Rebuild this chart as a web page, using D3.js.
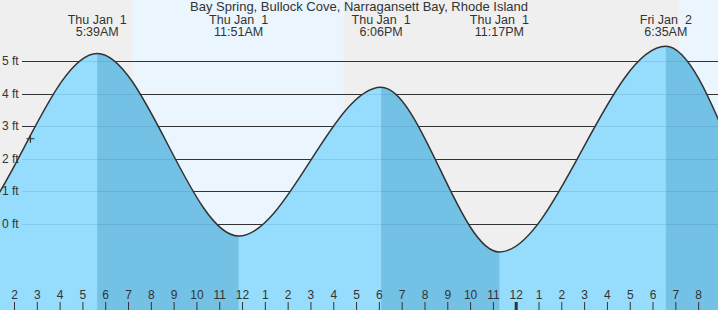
<!DOCTYPE html>
<html>
<head>
<meta charset="utf-8">
<script src="https://cdn.jsdelivr.net/npm/d3@7"></script>
<style>
  body { margin: 0; background: #fff; }
  svg text { font-family: "Liberation Sans", Arial, sans-serif; fill: #333; }
</style>
</head>
<body>
<svg id="tide"></svg>
<script>
// hours counted from midnight, Thu Jan 1
var title = "Bay Spring, Bullock Cove, Narragansett Bay, Rhode Island";

// high / low events (the first and last ones lie outside the view)
var tideTimes   = [-7.0, -0.7, 5.65, 11.85, 18.1, 23.283, 30.583, 36.4, 42.6];
var tideHeights = [4.6, -0.45, 5.24, -0.37, 4.2, -0.86, 5.46, -1.0, 4.5];

// labelled events
var eventTimes = [5.65, 11.85, 18.1, 23.283, 30.583];
var eventDates = ["Thu Jan  1", "Thu Jan  1", "Thu Jan  1", "Thu Jan  1", "Fri Jan  2"];
var eventClock = ["5:39AM", "11:51AM", "6:06PM", "11:17PM", "6:35AM"];

// daylight
var sunrise = [7.2, 31.16];
var sunset  = [16.46, 40];

// falling tide bands (high -> low)
var fallStart = [5.65, 18.1, 30.583];
var fallEnd   = [11.85, 23.283, 40];

var heightTicks = [0, 1, 2, 3, 4, 5];
var hourTicks = d3.range(2, 33);

// current time marker
var nowTime = 2.72;
var nowHeight = 2.62;

var width = 718, height = 310;

var svg = d3.select('#tide')
    .attr('width', width)
    .attr('height', height);

var xScale = d3.scaleLinear().domain([2, 24]).range([14, 515.7]);
var yScale = d3.scaleLinear().domain([0, 5]).range([224, 61.3]);

// night background
svg.append('rect')
    .attr('width', width)
    .attr('height', height)
    .attr('fill', '#efefef');

// daylight
svg.selectAll('.day')
    .data(sunrise)
    .enter()
    .append('rect')
    .attr('class', 'day')
    .attr('x', function(d) { return xScale(d); })
    .attr('y', 0)
    .attr('width', function(d, i) { return xScale(sunset[i]) - xScale(d); })
    .attr('height', height)
    .attr('fill', '#ebf5fe');

// grid lines
svg.selectAll('.grid')
    .data(heightTicks)
    .enter()
    .append('line')
    .attr('class', 'grid')
    .attr('x1', 22)
    .attr('x2', width)
    .attr('y1', function(d) { return Math.round(yScale(d)) + 0.5; })
    .attr('y2', function(d) { return Math.round(yScale(d)) + 0.5; })
    .attr('stroke', '#333')
    .attr('stroke-width', 1);

var tideData = tideTimes.map(function(t, i) { return { t: t, h: tideHeights[i] }; });

var area = d3.area()
    .x(function(d) { return xScale(d.t); })
    .y0(height)
    .y1(function(d) { return yScale(d.h); })
    .curve(d3.curveMonotoneX);

var line = d3.line()
    .x(function(d) { return xScale(d.t); })
    .y(function(d) { return yScale(d.h); })
    .curve(d3.curveMonotoneX);

svg.append('clipPath')
    .attr('id', 'water')
    .append('path')
    .attr('d', area(tideData));

// water
svg.append('path')
    .attr('d', area(tideData))
    .attr('fill', '#96dcfc');

var water = svg.append('g').attr('clip-path', 'url(#water)');

water.selectAll('.fall')
    .data(fallStart)
    .enter()
    .append('rect')
    .attr('class', 'fall')
    .attr('x', function(d) { return xScale(d); })
    .attr('y', 0)
    .attr('width', function(d, i) { return xScale(fallEnd[i]) - xScale(d); })
    .attr('height', height)
    .attr('fill', '#73c1e5');

// faint grid through the water
water.selectAll('.wgrid')
    .data(heightTicks)
    .enter()
    .append('line')
    .attr('class', 'wgrid')
    .attr('x1', 22)
    .attr('x2', width)
    .attr('y1', function(d) { return Math.round(yScale(d)) + 0.5; })
    .attr('y2', function(d) { return Math.round(yScale(d)) + 0.5; })
    .attr('stroke', '#0a4a70')
    .attr('stroke-opacity', 0.12);

svg.append('path')
    .attr('d', line(tideData))
    .attr('fill', 'none')
    .attr('stroke', '#333')
    .attr('stroke-width', 1.5);

// height labels
svg.selectAll('.ylabel')
    .data(heightTicks)
    .enter()
    .append('text')
    .attr('class', 'ylabel')
    .attr('x', 2)
    .attr('y', function(d) { return yScale(d) + 4; })
    .style('font-size', '12px')
    .text(function(d) { return d + ' ft'; });

// now marker
svg.append('path')
    .attr('transform', 'translate(' + xScale(nowTime) + ',' + yScale(nowHeight) + ')')
    .attr('d', 'M-4,0H4M0,-4V4')
    .attr('stroke', '#333')
    .attr('stroke-width', 1.2);

// title
svg.append('text')
    .attr('x', width / 2)
    .attr('y', 11)
    .attr('text-anchor', 'middle')
    .style('font-size', '13px')
    .text(title);

// event labels
var ev = svg.selectAll('.event')
    .data(eventTimes)
    .enter()
    .append('text')
    .attr('class', 'event')
    .attr('text-anchor', 'middle')
    .style('font-size', '12.5px')
    .style('white-space', 'pre');

ev.append('tspan')
    .attr('x', function(d) { return xScale(d); })
    .attr('y', 24)
    .text(function(d, i) { return eventDates[i]; });

ev.append('tspan')
    .attr('x', function(d) { return xScale(d); })
    .attr('y', 36)
    .text(function(d, i) { return eventClock[i]; });

// hour axis
var xAxis = d3.axisBottom(xScale)
    .tickValues(hourTicks)
    .tickSize(8)
    .tickFormat(function(d) { var h = d % 12; return h === 0 ? 12 : h; });

var gx = svg.append('g')
    .attr('transform', 'translate(0,302)')
    .call(xAxis);

gx.select('.domain').remove();
gx.selectAll('.tick line')
    .attr('stroke', '#333')
    .attr('stroke-width', function(d) { return d === 24 ? 3 : 1; });
gx.selectAll('.tick text')
    .attr('y', -3)
    .attr('dy', 0)
    .style('font-size', '12px')
    .style('font-family', '"Liberation Sans", Arial, sans-serif')
    .attr('fill', '#333');
</script>
</body>
</html>
